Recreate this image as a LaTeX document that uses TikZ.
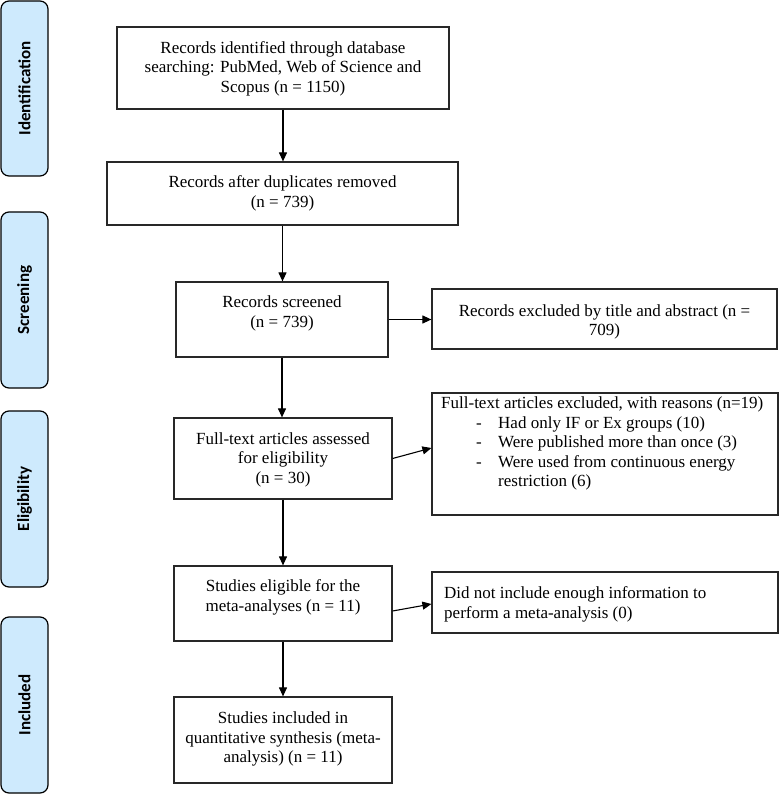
\documentclass[tikz,border=0pt]{standalone}
\usepackage{fontspec}
\setmainfont{Liberation Serif}
\newfontfamily\sidefont{Carlito}
\usetikzlibrary{arrows.meta}
\definecolor{phaseblue}{RGB}{206,234,253}
\definecolor{edge}{RGB}{40,40,40}
\tikzset{
  box/.style={draw=edge, line width=1.2pt, inner sep=0pt},
  txt/.style={inner sep=0pt, font=\fontsize{17}{19.5}\selectfont},
  phase/.style={draw=black, line width=1.2pt, fill=phaseblue, rounded corners=8pt,
    inner sep=0pt, rotate=90, minimum height=47pt, minimum width=176pt,
    font=\sidefont\bfseries\fontsize{17}{20}\selectfont},
  arr/.style={draw=black, line width=1.1pt, -{Triangle[length=9pt,width=8pt]}},
}
\begin{document}
\begin{tikzpicture}[x=1pt,y=-1pt]
\useasboundingbox (0,0) rectangle (779,794);
% phase labels
\node[phase, minimum width=175pt] (pid) at (24.5,88.5) {Identification};
\node[phase] (psc) at (24.5,300) {Screening};
\node[phase] (pel) at (24.5,499) {Eligibility};
\node[phase] (pin) at (24.5,705) {Included};
% boxes
\node[box, minimum width=332pt, minimum height=82pt] (b1) at (283,68) {};
\node[box, minimum width=351pt, minimum height=63pt] (b2) at (282.5,193.5) {};
\node[box, minimum width=212pt, minimum height=75pt] (b3) at (282,319.5) {};
\node[box, minimum width=345pt, minimum height=60pt] (b4) at (604.5,319) {};
\node[box, minimum width=346pt, minimum height=122pt] (b5) at (605,454) {};
\node[box, minimum width=218pt, minimum height=81pt] (b6) at (283,458.5) {};
\node[box, minimum width=218pt, minimum height=75pt] (b7) at (283,603.5) {};
\node[box, minimum width=346pt, minimum height=61pt] (b8) at (605,602.5) {};
\node[box, minimum width=218pt, minimum height=86pt] (b9) at (283,740) {};
% texts
\node[txt, align=center] (t1) at (283,68.5) {Records identified through database\\searching: PubMed, Web of Science and\\Scopus (n = 1150)};
\node[txt, align=center] (t2) at (282.5,193.5) {Records after duplicates removed\\(n = 739)};
\node[txt, align=center] (t3) at (282,313.5) {Records screened\\(n = 739)};
\node[txt, align=center] (t4) at (604.5,322) {Records excluded by title and abstract (n =\\709)};
\node[txt, align=left, anchor=west] (t5) at (441,443.5) {Full-text articles excluded, with reasons (n=19)\\
\hspace*{35pt}\makebox[22pt][l]{-}Had only IF or Ex groups (10)\\
\hspace*{35pt}\makebox[22pt][l]{-}Were published more than once (3)\\
\hspace*{35pt}\makebox[22pt][l]{-}Were used from continuous energy\\
\hspace*{57pt}restriction (6)};
\node[txt, align=center] (t6) at (283,459.5) {Full-text articles assessed\\for eligibility\\(n = 30)};
\node[txt, align=center] (t7) at (283,597.5) {Studies eligible for the\\meta-analyses (n = 11)};
\node[txt, align=left, anchor=west] (t8) at (444,604.5) {Did not include enough information to\\perform a meta-analysis (0)};
\node[txt, align=center] (t9) at (283,739) {Studies included in\\quantitative synthesis (meta-\\analysis) (n = 11)};
% arrows
\draw[arr] (b1.south) -- (b1.south |- b2.north);
\draw[arr] (b2.south) -- (b2.south |- b3.north);
\draw[arr] (b3.east) -- (b3.east -| b4.west);
\draw[arr] (b3.south) -- (b3.south |- b6.north);
\draw[arr] (b6.east) -- ([yshift=6pt]b5.west);
\draw[arr] (b6.south) -- (b6.south |- b7.north);
\draw[arr] ([yshift=-7.5pt]b7.east) -- ([yshift=-1.5pt]b8.west);
\draw[arr] (b7.south) -- (b7.south |- b9.north);
\end{tikzpicture}
\end{document}
